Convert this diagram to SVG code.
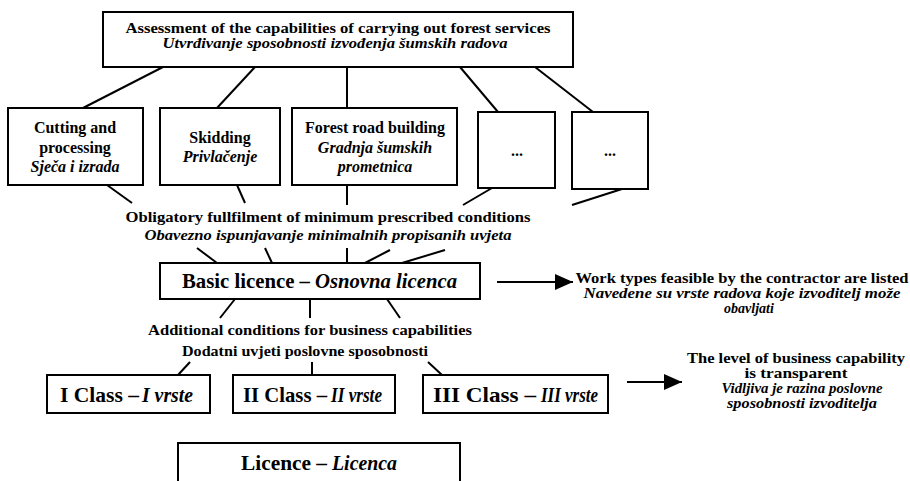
<svg xmlns="http://www.w3.org/2000/svg" width="910" height="481" viewBox="0 0 910 481">
<style>
.box{fill:#fff;stroke:#000;stroke-width:2}
.ln{stroke:#000;stroke-width:2;fill:none}
text{font-family:"Liberation Serif","Times New Roman",serif;fill:#000;font-weight:bold;text-anchor:middle}
.i{font-style:italic}
.st{text-anchor:start}
.s14{font-size:14px}
.s15{font-size:15px}
.s16{font-size:16px}
.s21{font-size:21px}
.s22{font-size:22px}
</style>
<defs>
<marker id="ah" markerUnits="userSpaceOnUse" markerWidth="20" markerHeight="16" refX="18" refY="8" orient="auto">
<path d="M0,0 L18,8 L0,16 Z" fill="#000"/>
</marker>
</defs>
<rect width="910" height="481" fill="#fff"/>
<g id="connectors">
<line class="ln" x1="163" y1="67" x2="83" y2="108"/>
<line class="ln" x1="255" y1="67" x2="217" y2="108"/>
<line class="ln" x1="347" y1="67" x2="347" y2="108"/>
<line class="ln" x1="460" y1="67" x2="498" y2="112"/>
<line class="ln" x1="535" y1="67" x2="593" y2="112"/>
<line class="ln" x1="107" y1="185" x2="132" y2="203"/>
<line class="ln" x1="237" y1="185" x2="245" y2="203"/>
<line class="ln" x1="347" y1="185" x2="347" y2="205"/>
<line class="ln" x1="492" y1="188" x2="463" y2="205"/>
<line class="ln" x1="622" y1="189" x2="572" y2="205"/>
<line class="ln" x1="197" y1="248" x2="217" y2="263"/>
<line class="ln" x1="265" y1="248" x2="272" y2="263"/>
<line class="ln" x1="347" y1="248" x2="347" y2="263"/>
<line class="ln" x1="390" y1="250" x2="365" y2="263"/>
<line class="ln" x1="445" y1="250" x2="402" y2="263"/>
<line class="ln" x1="235" y1="299" x2="220" y2="318"/>
<line class="ln" x1="310" y1="299" x2="310" y2="318"/>
<line class="ln" x1="387" y1="299" x2="400" y2="318"/>
<line class="ln" x1="190" y1="362" x2="178" y2="375"/>
<line class="ln" x1="312" y1="362" x2="312" y2="375"/>
<line class="ln" x1="428" y1="362" x2="442" y2="375"/>
<line class="ln" x1="497" y1="282" x2="573" y2="282" marker-end="url(#ah)"/>
<line class="ln" x1="627" y1="382" x2="682" y2="382" marker-end="url(#ah)"/>
</g>
<g id="assessment">
<rect class="box" x="103" y="12" width="470" height="55"/>
<text class="s15" x="338" y="33" textLength="425" lengthAdjust="spacingAndGlyphs">Assessment of the capabilities of carrying out forest services</text>
<text class="s15 i" x="335" y="48" textLength="345" lengthAdjust="spacingAndGlyphs">Utvrđivanje sposobnosti izvođenja šumskih radova</text>
</g>
<g id="cutting">
<rect class="box" x="8" y="108" width="135" height="77"/>
<text class="s16" x="75" y="133">Cutting and</text>
<text class="s16" x="75" y="153">processing</text>
<text class="s16 i" x="75" y="172">Sječa i izrada</text>
</g>
<g id="skidding">
<rect class="box" x="160" y="108" width="120" height="77"/>
<text class="s16" x="220" y="143">Skidding</text>
<text class="s16 i" x="220" y="162">Privlačenje</text>
</g>
<g id="road">
<rect class="box" x="292" y="108" width="165" height="77"/>
<text class="s16" x="375" y="133">Forest road building</text>
<text class="s16 i" x="375" y="153">Gradnja šumskih</text>
<text class="s16 i" x="375" y="172">prometnica</text>
</g>
<g id="other1">
<rect class="box" x="478" y="112" width="77" height="76"/>
<text class="s16" x="517" y="156">...</text>
</g>
<g id="other2">
<rect class="box" x="572" y="112" width="76" height="77"/>
<text class="s16" x="610" y="156">...</text>
</g>
<g id="obligatory">
<text class="s14" x="328" y="222" textLength="405" lengthAdjust="spacingAndGlyphs">Obligatory fullfilment of minimum prescribed conditions</text>
<text class="s14 i" x="328" y="240" textLength="367" lengthAdjust="spacingAndGlyphs">Obavezno ispunjavanje minimalnih propisanih uvjeta</text>
</g>
<g id="basic">
<rect class="box" x="160" y="263" width="320" height="36"/>
<text class="s21 st" x="182" y="288" textLength="128" lengthAdjust="spacingAndGlyphs">Basic licence –</text>
<text class="s21 st i" x="315" y="288" textLength="142" lengthAdjust="spacingAndGlyphs">Osnovna licenca</text>
</g>
<g id="worktypes">
<text class="s14" x="742" y="283" textLength="333" lengthAdjust="spacingAndGlyphs">Work types feasible by the contractor are listed</text>
<text class="s14 i" x="742" y="298" textLength="317" lengthAdjust="spacingAndGlyphs">Navedene su vrste radova koje izvoditelj može</text>
<text class="s14 i" x="749" y="313">obavljati</text>
</g>
<g id="additional">
<text class="s14" x="310" y="335" textLength="324" lengthAdjust="spacingAndGlyphs">Additional conditions for business capabilities</text>
<text class="s14" x="305" y="356" textLength="246" lengthAdjust="spacingAndGlyphs">Dodatni uvjeti poslovne sposobnosti</text>
</g>
<g id="class1">
<rect class="box" x="47" y="375" width="163" height="38"/>
<text class="s22 st" x="60" y="402" textLength="79" lengthAdjust="spacingAndGlyphs">I Class –</text>
<text class="s22 st i" x="142" y="402" textLength="51" lengthAdjust="spacingAndGlyphs">I vrste</text>
</g>
<g id="class2">
<rect class="box" x="233" y="375" width="162" height="38"/>
<text class="s22 st" x="243" y="402" textLength="84" lengthAdjust="spacingAndGlyphs">II Class –</text>
<text class="s22 st i" x="331" y="402" textLength="51" lengthAdjust="spacingAndGlyphs">II vrste</text>
</g>
<g id="class3">
<rect class="box" x="423" y="375" width="185" height="38"/>
<text class="s22 st" x="433" y="402" textLength="103" lengthAdjust="spacingAndGlyphs">III Class –</text>
<text class="s22 st i" x="541" y="402" textLength="57" lengthAdjust="spacingAndGlyphs">III vrste</text>
</g>
<g id="transparent">
<text class="s14" x="796" y="363" textLength="218" lengthAdjust="spacingAndGlyphs">The level of business capability</text>
<text class="s14" x="796" y="378" textLength="103" lengthAdjust="spacingAndGlyphs">is transparent</text>
<text class="s14 i" x="802" y="393" textLength="161" lengthAdjust="spacingAndGlyphs">Vidljiva je razina poslovne</text>
<text class="s14 i" x="802" y="408" textLength="150" lengthAdjust="spacingAndGlyphs">sposobnosti izvoditelja</text>
</g>
<g id="licence">
<rect class="box" x="178" y="443" width="282" height="50"/>
<text class="s21 st" x="241" y="470" textLength="86" lengthAdjust="spacingAndGlyphs">Licence –</text>
<text class="s21 st i" x="332" y="470" textLength="65" lengthAdjust="spacingAndGlyphs">Licenca</text>
</g>
</svg>
